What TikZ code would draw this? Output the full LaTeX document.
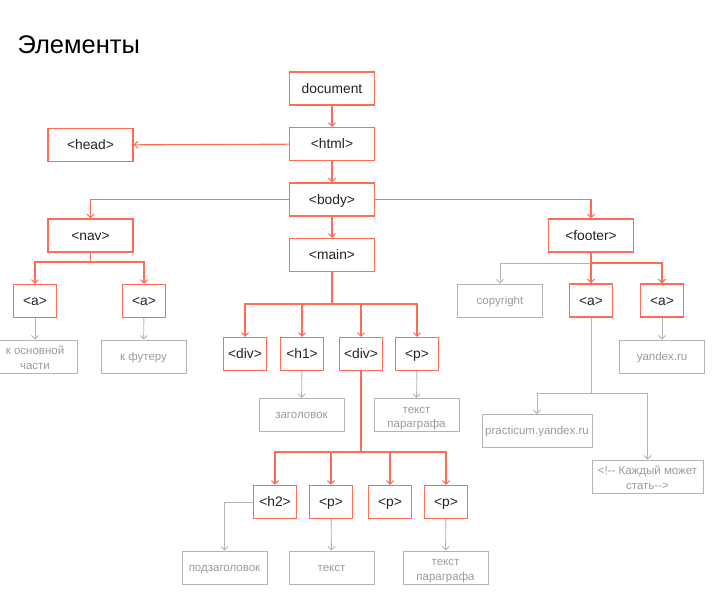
\documentclass[tikz,border=0pt]{standalone}
\usepackage{fontspec}
\setmainfont[Ligatures=NoCommon]{Liberation Sans}
\usetikzlibrary{arrows.meta}
\definecolor{tagred}{HTML}{FF6B57}
\definecolor{leafgray}{HTML}{B4B4B4}
\definecolor{leaftext}{HTML}{9A9A9A}
\definecolor{tagtext}{HTML}{222222}
\begin{document}
\begin{tikzpicture}[x=1pt, y=-1pt,
    tag/.style={draw=tagred, line width=1.2pt, text=tagtext, minimum height=33pt, inner sep=0pt,
      text height=9pt, text depth=0pt, font=\fontsize{13.8}{15}\selectfont},
    wide/.style={tag, minimum width=85pt},
    narrow/.style={tag, minimum width=43pt},
    leaf/.style={draw=leafgray, line width=0.9pt, text=leaftext, minimum width=85pt, minimum height=33pt,
      inner sep=0pt, align=center, text height=7pt, text depth=0pt, font=\fontsize{11.5}{14.5}\selectfont},
    twoline/.style={leaf, text height=25.5pt, text depth=0pt},
    redline/.style={draw=tagred, line width=1.1pt, -{Straight Barb[length=3.5pt,width=7pt]}},
    grayline/.style={draw=leafgray, line width=0.9pt, -{Straight Barb[length=3.5pt,width=7pt]}}]
\useasboundingbox (0,0) rectangle (717,606);
\node[anchor=base west, font=\fontsize{25.5}{28}\selectfont] (title) at (14,53) {Элементы};
% tags
\node[wide] (doc) at (332,88.5) {document};
\node[wide] (html) at (332,144) {<html>};
\node[wide] (head) at (90.5,145) {<head>};
\node[wide] (body) at (332,199.5) {<body>};
\node[wide] (nav) at (90.5,235.5) {<nav>};
\node[wide] (main) at (332,255) {<main>};
\node[wide] (footer) at (591,235.5) {<footer>};
\node[narrow] (navA) at (35,301) {<a>};
\node[narrow] (navB) at (144,301) {<a>};
\node[narrow] (div) at (245,354) {<div>};
\node[narrow] (hone) at (302,354) {<h1>};
\node[narrow] (divB) at (361,354) {<div>};
\node[narrow] (par) at (417,354) {<p>};
\node[narrow] (htwo) at (275,502) {<h2>};
\node[narrow] (parA) at (331,502) {<p>};
\node[narrow] (parB) at (390,502) {<p>};
\node[narrow] (parC) at (446,502) {<p>};
\node[narrow] (footA) at (591,300.5) {<a>};
\node[narrow] (footB) at (662,300.5) {<a>};
% leaves
\node[twoline] (mainlink) at (35,356.5) {к основной\\части};
\node[leaf] (footlink) at (143.5,356.5) {к футеру};
\node[leaf] (heading) at (301.5,415) {заголовок};
\node[twoline] (partext) at (416.5,415) {текст\\параграфа};
\node[leaf] (subhead) at (224.5,567.5) {подзаголовок};
\node[leaf] (plain) at (331.5,567.5) {текст};
\node[twoline] (partextB) at (445.5,567.5) {текст\\параграфа};
\node[leaf] (copy) at (500,300.5) {copyright};
\node[leaf] (yandex) at (662,356.5) {yandex.ru};
\node[leaf, minimum width=110pt] (practicum) at (537,431) {practicum.yandex.ru};
\node[twoline, minimum width=111pt] (comment) at (647.5,476.5) {<!-{}- Каждый может\\стать-{}->};
% joints
\coordinate (navJ) at (90.5,262);
\coordinate (mainJ) at (332,304);
\coordinate (divJ) at (361,452);
\coordinate (footJ) at (591,263);
\coordinate (linkJ) at (591,393);
% tag connectors
\draw[redline] (doc) -- (html);
\draw[redline] (html) -- (head);
\draw[redline] (html) -- (body);
\draw[redline] (body) -- (main);
\draw[redline] (body.west) -| (nav.north);
\draw[redline] (body.east) -| (footer.north);
\draw[tagred, line width=1.1pt] (nav.south) -- (navJ) (main.south) -- (mainJ)
  (divB.south) -- (divJ) (footer.south) -- (footJ);
\foreach \n in {navA,navB} \draw[redline] (navJ) -| (\n.north);
\foreach \n in {div,hone,divB,par} \draw[redline] (mainJ) -| (\n.north);
\foreach \n in {htwo,parA,parB,parC} \draw[redline] (divJ) -| (\n.north);
\foreach \n in {footA,footB} \draw[redline] (footJ) -| (\n.north);
% leaf connectors
\draw[grayline] (footJ) -| (copy.north);
\draw[leafgray, line width=0.9pt] (footA.south) -- (linkJ);
\draw[grayline] (linkJ) -| (practicum.north);
\draw[grayline] (linkJ) -| (comment.north);
\draw[grayline] (htwo.west) -| (subhead.north);
\foreach \a/\b in {navA/mainlink, navB/footlink, hone/heading, par/partext,
  parA/plain, parC/partextB, footB/yandex}
  \draw[grayline] (\a) -- (\b);
\end{tikzpicture}
\end{document}
